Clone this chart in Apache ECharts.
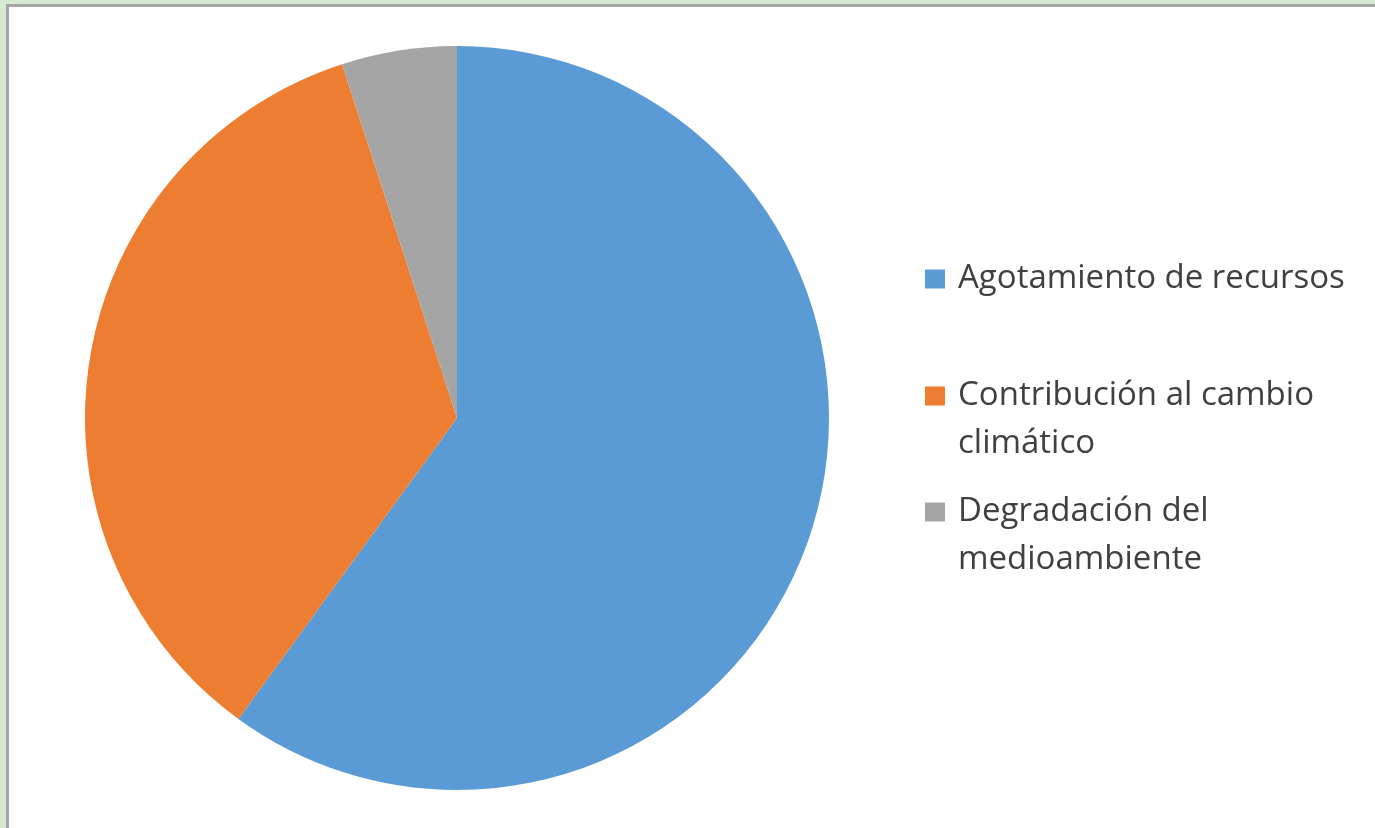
<!DOCTYPE html>
<html>
<head>
<meta charset="utf-8">
<script src="https://cdn.jsdelivr.net/npm/echarts@6/dist/echarts.min.js"></script>
<style>
html,body{margin:0;padding:0;width:1375px;height:828px;overflow:hidden;background:#d9ead3;}
#frame{position:absolute;left:6px;top:4px;width:1400px;height:900px;background:#fff;border-left:3px solid #a6a6a6;border-top:3px solid #a6a6a6;}
#chart{position:absolute;left:0;top:0;width:1375px;height:828px;}
</style>
</head>
<body>
<div id="frame"></div>
<div id="chart"></div>
<script>
const categories = ['Agotamiento de recursos', 'Contribución al cambio', 'Degradación del'];
const continuation = ['', 'climático', 'medioambiente'];
const values = [60, 35, 5];
const colors = ['#5b9bd5', '#ed7d31', '#a5a5a5'];

const chart = echarts.init(document.getElementById('chart'));
const font = '"Open Sans"';
const fs = 33;
const lh = 33;
const padTop = 4;
const textColor = '#404040';
const iconCenters = [279, 396, 512];
const lineStep = 46;
const legendX = 925;

const legends = categories.map((c, i) => ({
  left: legendX,
  top: iconCenters[i] - (lh + padTop) / 2,
  orient: 'vertical',
  padding: 0,
  data: [c],
  icon: 'rect',
  itemWidth: 20,
  itemHeight: 19,
  itemGap: 0,
  selectedMode: false,
  textStyle: {fontFamily: font, fontSize: fs, lineHeight: lh, color: textColor, padding: [padTop, 0, 0, 8]}
}));

const graphics = [];
continuation.forEach((t, i) => {
  if (!t) return;
  graphics.push({
    type: 'text',
    x: legendX + 20 + 5 + 8,
    y: iconCenters[i] + lineStep + padTop / 2,
    style: {text: t, font: fs + 'px ' + font, fill: textColor, verticalAlign: 'middle', align: 'left'}
  });
});

chart.setOption({
  animation: false,
  color: colors,
  legend: legends,
  graphic: graphics,
  series: [{
    type: 'pie',
    center: [457, 418],
    radius: 372,
    startAngle: 90,
    clockwise: true,
    label: {show: false},
    labelLine: {show: false},
    itemStyle: {borderWidth: 0},
    emphasis: {disabled: true},
    data: categories.map((c, i) => ({name: c, value: values[i]}))
  }]
});
</script>
</body>
</html>
